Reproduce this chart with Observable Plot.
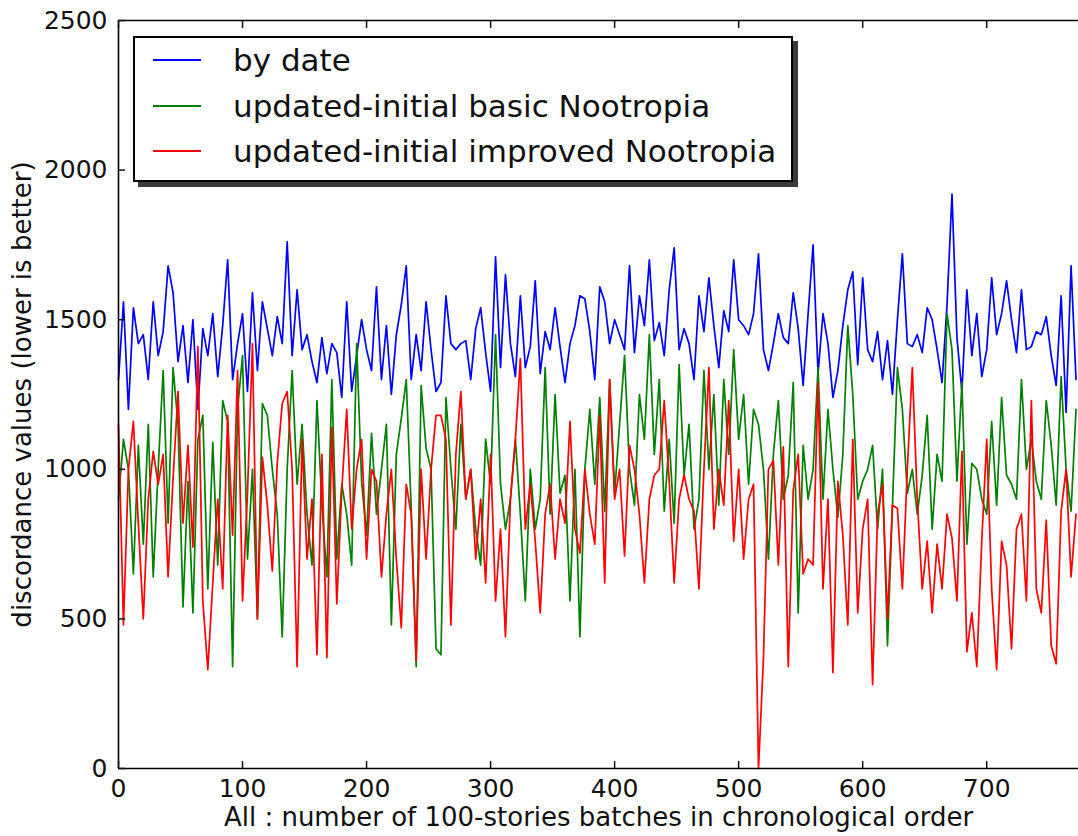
<!DOCTYPE html>
<html>
<head>
<meta charset="utf-8">
<script src="https://cdn.jsdelivr.net/npm/d3@7"></script>
<script src="https://cdn.jsdelivr.net/npm/@observablehq/plot@0.6"></script>
<style>
  html, body { margin: 0; padding: 0; background: #fff; }
  #chart { position: relative; width: 1078px; height: 836px; overflow: hidden; font-family: "DejaVu Sans", sans-serif; }
  #legend { position: absolute; left: 133px; top: 36px; width: 656px; height: 142px; border: 2px solid #000; background: #fff; box-shadow: 5px 5px 0 #3a3a3a; }
  .item { position: absolute; left: 0; height: 40px; }
  .item .swatch { position: absolute; left: 18px; width: 48px; height: 0; border-top: 2px solid; }
  .item .lbl { position: absolute; left: 98px; top: 0; white-space: nowrap; font-size: 31px; color: #111; line-height: 40px; }
</style>
</head>
<body>
<div id="chart"></div>
<script>
const seriesNames = ["by date", "updated-initial basic Nootropia", "updated-initial improved Nootropia"];
const seriesColors = ["#0000ff", "#008000", "#ff0000"];
const xTicks = [0, 100, 200, 300, 400, 500, 600, 700];
const yTicks = [0, 500, 1000, 1500, 2000, 2500];
const xLabel = "All : number of 100-stories batches in chronological order";
const yLabel = "discordance values (lower is better)";

const batches = d3.range(0, 776, 4);

const byDate = [
  1300,1560,1200,1540,1420,1450,1300,1560,1380,1460,1680,1590,1360,1480,1290,1500,1200,1470,1380,1520,1310,1480,1700,1300,1420,1520,1260,1590,1330,1560,1470,1380,1510,
  1420,1760,1380,1600,1400,1450,1360,1290,1440,1320,1420,1390,1240,1560,1260,1380,1500,1400,1330,1610,1300,1480,1250,1450,1550,1680,1300,1450,1330,1560,1400,1260,
  1290,1580,1420,1400,1420,1430,1300,1470,1540,1390,1260,1710,1340,1650,1420,1310,1580,1340,1410,1630,1320,1460,1400,1540,1410,1290,1420,1480,1580,1570,1460,1300,1610,
  1560,1420,1500,1450,1400,1680,1390,1580,1480,1700,1430,1490,1380,1600,1740,1400,1470,1420,1300,1580,1460,1640,1480,1340,1530,1460,1700,1500,1480,1450,1520,1720,
  1400,1330,1420,1520,1440,1420,1590,1470,1280,1520,1750,1320,1520,1420,1240,1330,1480,1600,1660,1350,1640,1400,1360,1460,1300,1430,1250,1500,1720,1420,1410,1450,
  1390,1540,1500,1400,1290,1550,1920,1440,1260,1600,1380,1520,1310,1400,1640,1450,1520,1630,1500,1390,1600,1400,1410,1460,1450,1510,1380,1280,1580,1190,1680,1300
];
const basicNootropia = [
  900,1100,1000,650,1080,750,1150,640,1000,1330,820,1340,1150,540,960,520,1100,1180,600,1090,680,1230,1160,340,1200,1380,700,1000,500,1220,1180,1000,850,
  440,1000,1330,950,1150,850,680,1230,880,640,1300,700,950,850,680,1420,960,780,1120,850,1000,1150,480,1050,1170,1300,870,340,1280,1070,1000,400,
  380,1240,1000,800,1150,900,1000,800,680,1100,950,1450,950,800,900,1100,850,560,1000,800,900,1340,850,1250,920,980,560,1000,440,1000,1200,950,1240,
  860,1300,920,1150,1380,1000,880,1250,1100,1450,1050,1300,860,1100,820,1350,980,1150,800,900,1330,1000,1250,880,1300,1050,1400,1100,1250,950,1200,1150,
  1000,700,1050,1230,900,980,1290,520,1080,900,1000,1340,900,1200,1000,840,1050,1480,1250,900,960,1000,1080,800,1000,410,880,1340,1200,920,1000,850,
  980,1180,800,1050,960,1520,1400,960,1290,750,1020,1000,900,850,1160,880,1240,980,950,900,1300,1000,1100,960,900,1230,1080,880,1310,1000,860,1200
];
const improvedNootropia = [
  1150,480,1000,1160,820,500,900,1060,950,1050,640,970,1260,820,1080,740,1410,560,330,620,900,600,1180,780,1330,560,920,1420,500,1040,880,660,1020,
  1220,1260,1000,340,1100,700,900,380,1050,370,1140,550,930,1200,800,1000,1100,700,1000,960,640,850,1000,700,470,950,850,360,1000,700,1000,1180,
  1180,1100,480,1050,1260,900,1000,700,900,620,1050,560,800,440,900,1100,1370,800,950,760,520,850,950,700,900,820,1160,800,720,1000,850,750,1180,
  620,1300,900,1000,710,1080,1000,850,620,900,980,1000,1230,960,620,900,980,900,860,600,1000,1340,800,1000,880,1230,760,1000,700,900,950,0,
  370,1000,1030,680,1075,340,930,1050,650,700,680,1290,600,900,320,960,780,480,1100,520,800,900,280,850,950,500,880,870,600,1000,1340,900,
  600,760,520,750,600,850,770,560,1060,390,520,340,760,1100,600,330,760,680,400,800,850,560,1230,600,520,830,410,350,860,1000,640,850
];
const seriesValues = [byDate, basicNootropia, improvedNootropia];

const rows = [];
seriesNames.forEach((name, k) => {
  seriesValues[k].forEach((v, i) => rows.push({batch: batches[i], value: v, series: name}));
});

const plot = Plot.plot({
  width: 1078,
  height: 836,
  marginLeft: 118,
  marginRight: 0,
  marginTop: 20,
  marginBottom: 68,
  style: {fontFamily: "DejaVu Sans", fontSize: "25px", color: "#111", background: "#fff", overflow: "visible"},
  x: {domain: [0, 774], label: null},
  y: {domain: [0, 2500], label: null},
  color: {domain: seriesNames, range: seriesColors},
  marks: [
    Plot.lineY(rows, {x: "batch", y: "value", z: "series", stroke: "series", strokeWidth: 1.7}),
    Plot.ruleY([0, 2500], {stroke: "#000", strokeWidth: 1.6}),
    Plot.ruleX([0], {stroke: "#000", strokeWidth: 1.6}),
    Plot.axisX(xTicks, {anchor: "bottom", tickSize: 0, tickPadding: 11, fontSize: 25, tickFormat: d => String(d), label: null}),
    Plot.axisX(xTicks, {anchor: "bottom", tickSize: -7, tickFormat: () => "", strokeWidth: 1.5, label: null}),
    Plot.axisX(xTicks, {anchor: "top", tickSize: -7, tickFormat: () => "", strokeWidth: 1.5, label: null}),
    Plot.axisY(yTicks, {anchor: "left", tickSize: 0, tickPadding: 11, fontSize: 25, tickFormat: d => String(d), label: null}),
    Plot.axisY(yTicks, {anchor: "left", tickSize: -7, tickFormat: () => "", strokeWidth: 1.5, label: null}),
    Plot.text([xLabel], {text: d => d, frameAnchor: "bottom", textAnchor: "middle", lineAnchor: "bottom", dy: 57, fontSize: 26, fill: "#111"}),
    Plot.text([yLabel], {text: d => d, frameAnchor: "left", textAnchor: "middle", rotate: -90, dx: -96, fontSize: 26, fill: "#111"})
  ]
});

const chart = document.getElementById("chart");
chart.appendChild(plot);

const legend = document.createElement("div");
legend.id = "legend";
seriesNames.forEach((name, k) => {
  const item = document.createElement("div");
  item.className = "item";
  item.style.top = (2 + k * 45.5) + "px";
  const sw = document.createElement("div");
  sw.className = "swatch";
  sw.style.borderTopColor = seriesColors[k];
  sw.style.top = "19px";
  const lbl = document.createElement("div");
  lbl.className = "lbl";
  lbl.textContent = name;
  item.appendChild(sw);
  item.appendChild(lbl);
  legend.appendChild(item);
});
chart.appendChild(legend);
</script>
</body>
</html>
